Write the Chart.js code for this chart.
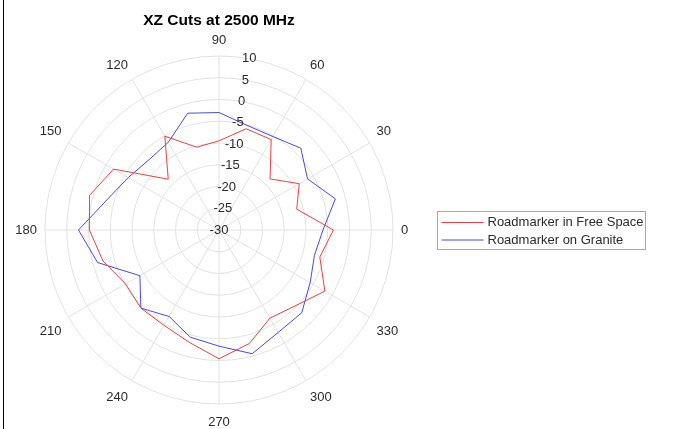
<!DOCTYPE html>
<html>
<head>
<meta charset="utf-8">
<script src="https://cdn.jsdelivr.net/npm/chart.js@4.4.1/dist/chart.umd.min.js"></script>
<style>
  html, body { margin: 0; padding: 0; background: #fff; }
  canvas { display: block; }
</style>
</head>
<body>
<canvas id="c" width="674" height="429"></canvas>
<script>
// Measured pattern, dB, one value every 15 degrees (counter-clockwise from 0)
const angles = [0, 15, 30, 45, 60, 75, 90, 105, 120, 135, 150, 165,
                180, 195, 210, 225, 240, 255, 270, 285, 300, 315, 330, 345];
const freeSpace = [-3.7, -11.5, -8.7, -13.4, -6.0, -5.9, -9.5, -10.3, -5.1, -13.5, -2.0, 0.8,
                   -0.2, -2.4, -5.2, -4.6, -4.7, -3.3, -0.4, -3.0, -6.6, -5.3, -1.9, -6.0];
const granite = [-6.1, -2.3, -6.5, -3.4, -5.2, -5.1, -3.0, -2.2, -6.7, -7.2, -5.9, -3.3,
                 2.3, -1.1, -9.0, -4.6, -7.05, -4.5, -3.3, -0.55, -2.8, -3.1, -5.8, -7.3];
const seriesNames = ['Roadmarker in Free Space', 'Roadmarker on Granite'];
const angleTicks = [0, 30, 60, 90, 120, 150, 180, 210, 240, 270, 300, 330];
const radiusTicks = [-30, -25, -20, -15, -10, -5, 0, 5, 10];
const title = 'XZ Cuts at 2500 MHz';

const FONT = '"Liberation Sans", Arial, Helvetica, sans-serif';
const TEXT = '#2b2b2b';
const GRID = '#e2e2e2';

// Radar scale runs clockwise from its start angle; index i sits at angle -15*i degrees.
const step = 360 / angles.length;
const order = angles.map((_, i) => (angles.length - i) % angles.length);
const radarLabels = order.map(k => String(angles[k]));
const pick = arr => order.map(k => arr[k]);
const indexOfAngle = a => Math.round(((360 - a) % 360) / step);

const polarText = {
  id: 'polarText',
  afterDraw(chart) {
    const s = chart.scales.r;
    const ctx = chart.ctx;
    ctx.save();
    ctx.font = '13px ' + FONT;
    ctx.fillStyle = TEXT;
    ctx.textAlign = 'center';
    ctx.textBaseline = 'middle';
    // angle labels: text box placed just outside the outer ring, aligned away from the centre
    const d = s.drawingArea + 8;
    angleTicks.forEach(a => {
      const p = s.getPointPosition(indexOfAngle(a), d);
      const hw = ctx.measureText(String(a)).width / 2;
      const c = Math.cos(p.angle), sn = Math.sin(p.angle);
      const dx = Math.abs(c) < 1e-6 ? 0 : Math.sign(c) * hw;
      const dy = Math.abs(sn) < 1e-6 ? 0 : (sn > 0 ? 10.2 : -7.2);
      ctx.fillText(String(a), p.x + dx, p.y + dy);
    });
    // radial tick labels along the 80 degree ray
    const ra = 80 * Math.PI / 180;
    radiusTicks.forEach(v => {
      const r = s.getDistanceFromCenterForValue(v);
      ctx.fillText(String(v), s.xCenter + r * Math.cos(ra), s.yCenter - r * Math.sin(ra));
    });
    // title
    ctx.font = 'bold 15.5px ' + FONT;
    ctx.fillStyle = '#000';
    ctx.fillText(title, s.xCenter, 20.5);
    ctx.restore();
  }
};

const boxLegend = {
  id: 'boxLegend',
  afterDraw(chart) {
    const ctx = chart.ctx;
    const x0 = 437.5, y0 = 211.5, w = 208, h = 38;
    ctx.save();
    ctx.fillStyle = '#fff';
    ctx.fillRect(x0, y0, w, h);
    ctx.strokeStyle = '#a8a8a8';
    ctx.lineWidth = 1;
    ctx.strokeRect(x0, y0, w, h);
    ctx.font = '13px ' + FONT;
    ctx.textBaseline = 'middle';
    ctx.textAlign = 'left';
    chart.data.datasets.forEach((ds, i) => {
      const y = y0 + 11 + i * 17.5;
      ctx.strokeStyle = ds.borderColor;
      ctx.beginPath();
      ctx.moveTo(x0 + 4, y);
      ctx.lineTo(x0 + 46, y);
      ctx.stroke();
      ctx.fillStyle = TEXT;
      ctx.fillText(ds.label, x0 + 50, y);
    });
    ctx.restore();
    // figure frame edge on the left
    ctx.save();
    ctx.fillStyle = '#000';
    ctx.fillRect(3, 0, 1, chart.height);
    ctx.restore();
  }
};

new Chart(document.getElementById('c'), {
  type: 'radar',
  data: {
    labels: radarLabels,
    datasets: [
      { label: seriesNames[0], data: pick(freeSpace), borderColor: '#ee4040', borderWidth: 1,
        fill: false, pointRadius: 0, tension: 0 },
      { label: seriesNames[1], data: pick(granite), borderColor: '#4848ee', borderWidth: 1,
        fill: false, pointRadius: 0, tension: 0 }
    ]
  },
  options: {
    responsive: false,
    devicePixelRatio: 1,
    animation: false,
    layout: { padding: { left: 45, top: 56, right: 280, bottom: 25 } },
    plugins: { legend: { display: false }, tooltip: { enabled: false }, title: { display: false } },
    elements: { line: { borderJoinStyle: 'miter' } },
    scales: {
      r: {
        min: -30,
        max: 10,
        startAngle: 90,
        ticks: { stepSize: 5, display: false },
        pointLabels: { display: false },
        grid: { circular: true, color: GRID, lineWidth: 1 },
        angleLines: {
          color: GRID,
          lineWidth: ctx => (ctx.index % 2 === 0 ? 1 : 0)
        }
      }
    }
  },
  plugins: [polarText, boxLegend]
});
</script>
</body>
</html>
